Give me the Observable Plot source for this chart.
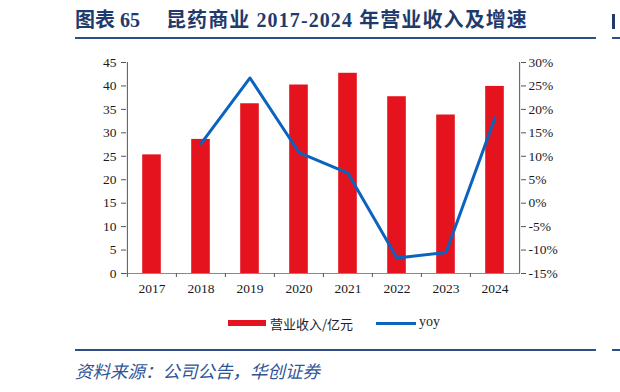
<!DOCTYPE html>
<html>
<head>
<meta charset="utf-8">
<script src="https://cdn.jsdelivr.net/npm/d3@7"></script>
<script src="https://cdn.jsdelivr.net/npm/@observablehq/plot@0.6"></script>
<style>
  html, body { margin: 0; padding: 0; background: #fff; }
  #page { position: relative; width: 620px; height: 392px; overflow: hidden; background: #fff; }
  .title { position: absolute; left: 75px; top: 7px; font-family: "Liberation Serif", "Noto Sans CJK SC", serif; font-weight: bold; font-size: 20px; line-height: 26px; color: #1F3B6E; white-space: nowrap; }
  .title span + span { margin-left: 26px; letter-spacing: 1.1px; }
  .rule { position: absolute; height: 2px; background: #2B4F86; }
  #chart { position: absolute; left: 0; top: 40px; }
  .legend { position: absolute; top: 314px; left: 0; width: 620px; height: 20px; font-family: "Noto Sans CJK SC", sans-serif; font-size: 13px; color: #222; }
  .legend .sw { position: absolute; }
  .legend .lbl { position: absolute; top: 0; white-space: nowrap; }
  .source { position: absolute; left: 75px; top: 359px; font-family: "Noto Sans CJK SC", sans-serif; font-style: italic; font-size: 17.5px; line-height: 24px; color: #2F5597; white-space: nowrap; }
</style>
</head>
<body>
<div id="page">
  <div class="title"><span id="t1"></span><span id="t2"></span></div>
  <div style="position:absolute; left:612px; top:14px; width:3px; height:15px; background:#1F3B6E;"></div>
  <div class="rule" style="left:75px; top:37px; width:521px;"></div>
  <div class="rule" style="left:612px; top:37px; width:10px;"></div>
  <div id="chart"></div>
  <div class="legend">
    <div class="sw" style="left:228px; top:6px; width:38px; height:6px; background:#E5131D;"></div>
    <div class="lbl" id="lab1" style="left:270px;"></div>
    <div class="sw" style="left:376px; top:8px; width:40px; height:3px; background:#0A63BE;"></div>
    <div class="lbl" id="lab2" style="left:419px; font-family:'Liberation Serif', serif; font-size:14px; top:0px;"></div>
  </div>
  <div class="rule" style="left:75px; top:349px; width:521px;"></div>
  <div class="rule" style="left:612px; top:349px; width:10px;"></div>
  <div class="source" id="source"></div>
</div>
<script>
const titleLabel = "图表 65";
const titleText = "昆药商业 2017-2024 年营业收入及增速";
const sourceText = "资料来源：公司公告，华创证券";
const seriesNames = ["营业收入/亿元", "yoy"];
const years = ["2017", "2018", "2019", "2020", "2021", "2022", "2023", "2024"];
const revenue = [25.3, 28.6, 36.2, 40.2, 42.7, 37.7, 33.8, 39.9];
const yoy = [null, 12.7, 26.7, 10.8, 6.4, -11.7, -10.5, 18.2];
const leftTicks = [0, 5, 10, 15, 20, 25, 30, 35, 40, 45];
const rightTicks = [-15, -10, -5, 0, 5, 10, 15, 20, 25, 30];

document.getElementById("t1").textContent = titleLabel;
document.getElementById("t2").textContent = titleText;
document.getElementById("source").textContent = sourceText;
document.getElementById("lab1").textContent = seriesNames[0];
document.getElementById("lab2").textContent = seriesNames[1];

const W = 620, H = 270, ML = 126, MR = 100, MT = 22, MB = 37;
const step = (W - ML - MR) / years.length;
const yMin = rightTicks[0], yMax = rightTicks[rightTicks.length - 1];
const leftMax = leftTicks[leftTicks.length - 1];
const toLeft = v => (v - yMin) / (yMax - yMin) * leftMax;

const bars = years.map((y, i) => ({year: y, rev: revenue[i]}));
const line = years.map((y, i) => ({year: y, yoy: yoy[i]})).filter(d => d.yoy != null);

const chart = Plot.plot({
  width: W, height: H,
  marginLeft: ML, marginRight: MR, marginTop: MT, marginBottom: MB,
  x: {type: "band", domain: years, padding: 0},
  y: {domain: [0, leftMax]},
  style: {fontFamily: "'Liberation Serif', serif", fontSize: "13.5px", color: "#1a1a1a", background: "transparent"},
  marks: [
    Plot.barY(bars, {x: "year", y: "rev", fill: "#E5131D", insetLeft: 15.2, insetRight: 15.2}),
    Plot.ruleY([0], {stroke: "#8a8a8a", strokeWidth: 1.2}),
    Plot.ruleX([years[0]], {dx: -step / 2, y1: 0, y2: leftMax, stroke: "#555"}),
    Plot.ruleX([years[years.length - 1]], {dx: step / 2, y1: 0, y2: leftMax, stroke: "#555"}),
    Plot.line(line, {x: "year", y: d => toLeft(d.yoy), stroke: "#0A63BE", strokeWidth: 3}),
    Plot.axisY({anchor: "left", ticks: leftTicks, tickSize: 5, tickPadding: 5, label: null, stroke: "#555"}),
    Plot.axisY({anchor: "right", ticks: rightTicks.map(toLeft), tickFormat: d => Math.round(d / leftMax * (yMax - yMin) + yMin) + "%", tickSize: 5, tickPadding: 3, label: null, stroke: "#555"}),
    Plot.axisX({tickSize: 0, tickPadding: 10, label: null}),
    Plot.axisX({tickSize: 4, tickFormat: () => "", dx: -step / 2, label: null, stroke: "#555"})
  ]
});
document.getElementById("chart").appendChild(chart);
</script>
</body>
</html>
